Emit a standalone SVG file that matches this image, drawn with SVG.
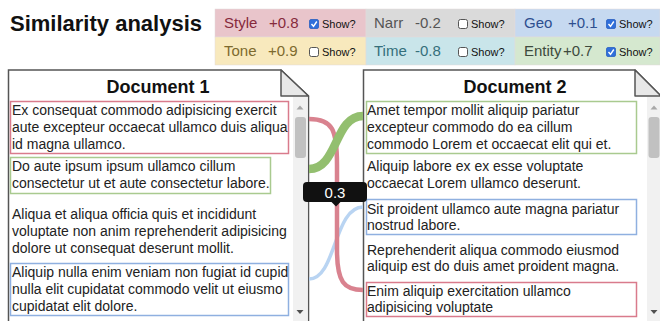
<svg xmlns="http://www.w3.org/2000/svg" width="660" height="321" viewBox="0 0 660 321">
<style>
text{font-family:"Liberation Sans",Arial,sans-serif}
.title{font-size:22px;font-weight:bold;fill:#111}
.lg{font-size:15px}
.show{font-size:11px;fill:#111}
.cb{fill:#fff;stroke:#555;stroke-width:1}
.cbc{fill:#2f6fdb;stroke:#2a5fc0;stroke-width:0.8}
.ck{fill:none;stroke:#fff;stroke-width:1.4}
.doc{fill:#fff;stroke:#555;stroke-width:1.5}
.fold{fill:#e8e8e8;stroke:#555;stroke-width:1.5;stroke-linejoin:round}
.hd{font-size:18px;font-weight:bold;fill:#111;text-anchor:middle}
.p{font-size:14px;fill:#222}
.br{fill:none;stroke:#d97b8c;stroke-width:1.5}
.bg{fill:none;stroke:#a9ca8f;stroke-width:1.5}
.bb{fill:none;stroke:#8fb0e0;stroke-width:1.5}
.track{fill:#f1f1f1}
.thumb{fill:#c1c1c1}
.conn{fill:none;stroke-linecap:butt}
</style>

<text class="title" x="10" y="31">Similarity analysis</text>

<g id="legend">
  <g id="leg-style">
    <rect x="215" y="9" width="151" height="28" fill="#e9c5cb" stroke="#e2dada" stroke-width="0.5"/>
    <text class="lg" x="224" y="28" fill="#862a3c">Style</text>
    <text class="lg" x="269" y="28" fill="#862a3c">+0.8</text>
    <rect class="cbc" x="309.5" y="19.5" width="9" height="9" rx="1.5"/>
    <path class="ck" d="M311.5,24 L313.5,26.3 L316.8,21.5"/>
    <text class="show" x="322" y="28">Show?</text>
  </g>
  <g id="leg-narr">
    <rect x="366" y="9" width="149" height="28" fill="#dadada" stroke="#e2dada" stroke-width="0.5"/>
    <text class="lg" x="374" y="28" fill="#555">Narr</text>
    <text class="lg" x="415" y="28" fill="#555">-0.2</text>
    <rect class="cb" x="458.5" y="19.5" width="9" height="9" rx="2"/>
    <text class="show" x="471" y="28">Show?</text>
  </g>
  <g id="leg-geo">
    <rect x="515" y="9" width="145" height="28" fill="#c6d9f0" stroke="#e2dada" stroke-width="0.5"/>
    <text class="lg" x="524" y="28" fill="#2d4f8f">Geo</text>
    <text class="lg" x="568" y="28" fill="#2d4f8f">+0.1</text>
    <rect class="cbc" x="606.5" y="19.5" width="9" height="9" rx="1.5"/>
    <path class="ck" d="M608.5,24 L610.5,26.3 L613.8,21.5"/>
    <text class="show" x="619" y="28">Show?</text>
  </g>
  <g id="leg-tone">
    <rect x="215" y="37" width="151" height="28" fill="#f8e9bd" stroke="#e2dada" stroke-width="0.5"/>
    <text class="lg" x="224" y="56" fill="#7d6a2e">Tone</text>
    <text class="lg" x="268" y="56" fill="#7d6a2e">+0.9</text>
    <rect class="cb" x="309.5" y="47.5" width="9" height="9" rx="2"/>
    <text class="show" x="322" y="56">Show?</text>
  </g>
  <g id="leg-time">
    <rect x="366" y="37" width="149" height="28" fill="#c9e5ea" stroke="#e2dada" stroke-width="0.5"/>
    <text class="lg" x="374" y="56" fill="#356f7b">Time</text>
    <text class="lg" x="415" y="56" fill="#356f7b">-0.8</text>
    <rect class="cb" x="458.5" y="47.5" width="9" height="9" rx="2"/>
    <text class="show" x="471" y="56">Show?</text>
  </g>
  <g id="leg-entity">
    <rect x="515" y="37" width="145" height="28" fill="#d5e8cf" stroke="#e2dada" stroke-width="0.5"/>
    <text class="lg" x="524" y="56" fill="#3d4a3d">Entity</text>
    <text class="lg" x="563" y="56" fill="#3d4a3d">+0.7</text>
    <rect class="cbc" x="606.5" y="47.5" width="9" height="9" rx="1.5"/>
    <path class="ck" d="M608.5,52 L610.5,54.3 L613.8,49.5"/>
    <text class="show" x="619" y="56">Show?</text>
  </g>
</g>

<g id="doc1">
  <path class="doc" d="M8.5,322 V70 H281 L308.5,96 V322"/>
  <rect class="track" x="293" y="96.5" width="14.8" height="225"/>
  <rect class="thumb" x="295" y="117" width="11" height="41" rx="3"/>
  <path d="M296.5,109.5 H303.5 L300,105.5 Z" fill="#a8a8a8"/>
  <path d="M296.5,310 H303.5 L300,314 Z" fill="#505050"/>
  <path class="fold" d="M281,70 V96 H308.5 Z"/>
  <text class="hd" x="158" y="93">Document 1</text>
  <g id="d1p1">
    <rect class="br" x="10.5" y="101.5" width="278" height="52"/>
    <text class="p" x="12" y="115">Ex consequat commodo adipisicing exercit</text>
    <text class="p" x="12" y="132">aute excepteur occaecat ullamco duis aliqua</text>
    <text class="p" x="12" y="149">id magna ullamco.</text>
  </g>
  <g id="d1p2">
    <rect class="bg" x="10.5" y="157.5" width="260" height="36"/>
    <text class="p" x="12" y="171">Do aute ipsum ipsum ullamco cillum</text>
    <text class="p" x="12" y="188">consectetur ut et aute consectetur labore.</text>
  </g>
  <g id="d1p3">
    <text class="p" x="12" y="219">Aliqua et aliqua officia quis et incididunt</text>
    <text class="p" x="12" y="236">voluptate non anim reprehenderit adipisicing</text>
    <text class="p" x="12" y="253">dolore ut consequat deserunt mollit.</text>
  </g>
  <g id="d1p4">
    <rect class="bb" x="10.5" y="263.5" width="278" height="52"/>
    <text class="p" x="12" y="277">Aliquip nulla enim veniam non fugiat id cupid</text>
    <text class="p" x="12" y="294">nulla elit cupidatat commodo velit ut eiusmo</text>
    <text class="p" x="12" y="311">cupidatat elit dolore.</text>
  </g>
</g>

<g id="doc2">
  <path class="doc" d="M363.5,322 V70 H635 L661,96 V322"/>
  <rect class="track" x="647" y="96.5" width="14" height="225"/>
  <rect class="thumb" x="648.5" y="117" width="11" height="41" rx="3"/>
  <path d="M650.5,109.5 H657.5 L654,105.5 Z" fill="#a8a8a8"/>
  <path d="M650.5,310 H657.5 L654,314 Z" fill="#505050"/>
  <path class="fold" d="M635,70 V96 H661 Z"/>
  <text class="hd" x="515" y="93">Document 2</text>
  <g id="d2p1">
    <rect class="bg" x="366.5" y="101.5" width="270" height="52"/>
    <text class="p" x="367" y="115">Amet tempor mollit aliquip pariatur</text>
    <text class="p" x="367" y="132">excepteur commodo do ea cillum</text>
    <text class="p" x="367" y="149">commodo Lorem et occaecat elit qui et.</text>
  </g>
  <g id="d2p2">
    <text class="p" x="367" y="171">Aliquip labore ex ex esse voluptate</text>
    <text class="p" x="367" y="188">occaecat Lorem ullamco deserunt.</text>
  </g>
  <g id="d2p3">
    <rect class="bb" x="366.5" y="199.5" width="270" height="35"/>
    <text class="p" x="367" y="214">Sit proident ullamco aute magna pariatur</text>
    <text class="p" x="367" y="230">nostrud labore.</text>
  </g>
  <g id="d2p4">
    <text class="p" x="367" y="255">Reprehenderit aliqua commodo eiusmod</text>
    <text class="p" x="367" y="271">aliquip est do duis amet proident magna.</text>
  </g>
  <g id="d2p5">
    <rect class="br" x="366.5" y="282.5" width="270" height="34"/>
    <text class="p" x="367" y="296">Enim aliquip exercitation ullamco</text>
    <text class="p" x="367" y="312">adipisicing voluptate</text>
  </g>
</g>

<g id="connectors">
  <path class="conn" d="M309,279 C336,279 334,207 363,207" stroke="#b9d4f2" stroke-width="3.5"/>
  <path class="conn" d="M309,119 C333,119 337,130 337,165 L337,250 C337,282 344,290 363,290" stroke="#d9828f" stroke-width="4.5"/>
  <path class="conn" d="M309,169 C338,169 334,116 363,116" stroke="#93bf6f" stroke-width="8.5"/>
</g>

<g id="tooltip">
  <rect x="303" y="182" width="64" height="20" rx="4" fill="#111"/>
  <path d="M331,201.5 H341 L336,206.5 Z" fill="#111"/>
  <text x="335" y="197.5" font-size="15" fill="#fff" text-anchor="middle">0.3</text>
</g>
</svg>
